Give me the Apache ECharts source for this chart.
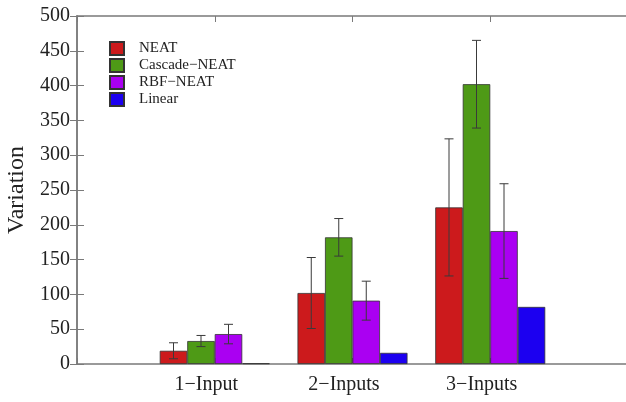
<!DOCTYPE html>
<html>
<head>
<meta charset="utf-8">
<script src="https://cdn.jsdelivr.net/npm/echarts@6/dist/echarts.min.js"></script>
<style>html,body{margin:0;padding:0;background:#fff}#c{width:626px;height:402px}</style>
</head>
<body>
<div id="c"></div>
<script>
const categories = ['1\u2212Input', '2\u2212Inputs', '3\u2212Inputs'];
const seriesNames = ['NEAT', 'Cascade\u2212NEAT', 'RBF\u2212NEAT', 'Linear'];
const neat = [19, 102, 225];
const neatErr = [11.5, 51, 98.5];
const cascade = [33, 182, 402];
const cascadeErr = [8, 27, 63];
const rbf = [43, 91, 191];
const rbfErr = [14, 28, 68];
const linear = [1, 16, 82];
const linearErr = [0, 0, 0];
const yTicks = [0, 50, 100, 150, 200, 250, 300, 350, 400, 450, 500];

const colors = ['#cc1a1c', '#4e9a16', '#aa00f2', '#1c00f0'];
const values = [neat, cascade, rbf, linear];
const errs = [neatErr, cascadeErr, rbfErr, linearErr];
const BW = 27.5;
const font = '"Liberation Serif", "DejaVu Serif", serif';
const axisCol = '#7a7a7a';

const chart = echarts.init(document.getElementById('c'));
const barSeries = values.map((vals, si) => ({
  name: seriesNames[si],
  type: 'bar',
  xAxisIndex: 0, yAxisIndex: 0,
  barWidth: BW,
  barGap: '0%',
  itemStyle: { color: colors[si], borderColor: '#333', borderWidth: 0.8 },
  data: vals.map((v, i) => [i + 1, v]),
  z: 2
}));
const errSeries = values.map((vals, si) => ({
  type: 'custom',
  name: 'err' + si,
  xAxisIndex: 0, yAxisIndex: 0,
  data: vals.map((v, i) => [i + 1, v - errs[si][i], v + errs[si][i]]),
  renderItem: function (params, api) {
    if (api.value(2) - api.value(1) <= 0) return null;
    const lo = api.coord([api.value(0), api.value(1)]);
    const hi = api.coord([api.value(0), api.value(2)]);
    const x = lo[0] + (si - 1.5) * BW;
    const cap = 4.5;
    const st = { stroke: '#3a3a3a', lineWidth: 1 };
    return {
      type: 'group',
      children: [
        { type: 'line', shape: { x1: x, y1: lo[1], x2: x, y2: hi[1] }, style: st },
        { type: 'line', shape: { x1: x - cap, y1: lo[1], x2: x + cap, y2: lo[1] }, style: st },
        { type: 'line', shape: { x1: x - cap, y1: hi[1], x2: x + cap, y2: hi[1] }, style: st }
      ]
    };
  },
  z: 5,
  silent: true
}));

chart.setOption({
  animation: false,
  backgroundColor: '#fff',
  grid: { left: 77, top: 16, width: 551, height: 348, show: false, containLabel: false, outerBoundsMode: 'none' },
  legend: {
    data: seriesNames.map(n => ({ name: n, icon: 'rect' })),
    orient: 'vertical',
    left: 109, top: 41,
    itemWidth: 14, itemHeight: 13, itemGap: 2,
    textStyle: { fontFamily: font, fontSize: 15, color: '#222', padding: [0, 0, 0, 10] },
    padding: 0
  },
  xAxis: [{
    type: 'value', min: 0, max: 4, interval: 1,
    axisLine: { show: true, lineStyle: { color: axisCol, width: 1.5 } },
    axisTick: { show: true, inside: true, length: 6, lineStyle: { color: axisCol } },
    splitLine: { show: false },
    axisLabel: {
      fontFamily: font, fontSize: 20, color: '#222', margin: 11,
      padding: [0, 17, 0, 0],
      formatter: v => (v >= 1 && v <= 3) ? categories[v - 1] : ''
    }
  }, {
    type: 'value', min: 0, max: 4, interval: 1, position: 'top',
    axisLine: { show: true, onZero: false, lineStyle: { color: axisCol, width: 1.5 } },
    axisTick: { show: true, inside: true, length: 6, lineStyle: { color: axisCol } },
    splitLine: { show: false },
    axisLabel: { show: false }
  }],
  yAxis: [{
    type: 'value', min: yTicks[0], max: yTicks[yTicks.length - 1], interval: 50,
    name: 'Variation', nameLocation: 'middle', nameGap: 45,
    nameTextStyle: { fontFamily: font, fontSize: 24, color: '#222' },
    axisLine: { show: true, lineStyle: { color: axisCol, width: 1.5 } },
    axisTick: { show: true, inside: true, length: 7, lineStyle: { color: axisCol } },
    splitLine: { show: false },
    axisLabel: { fontFamily: font, fontSize: 20, color: '#222', margin: 7 }
  }, {
    type: 'value', min: yTicks[0], max: yTicks[yTicks.length - 1], interval: 50, position: 'right',
    axisLine: { show: true, lineStyle: { color: axisCol, width: 1.5 } },
    axisTick: { show: true, inside: true, length: 7, lineStyle: { color: axisCol } },
    splitLine: { show: false },
    axisLabel: { show: false }
  }],
  series: barSeries.concat(errSeries)
});
</script>
</body>
</html>
